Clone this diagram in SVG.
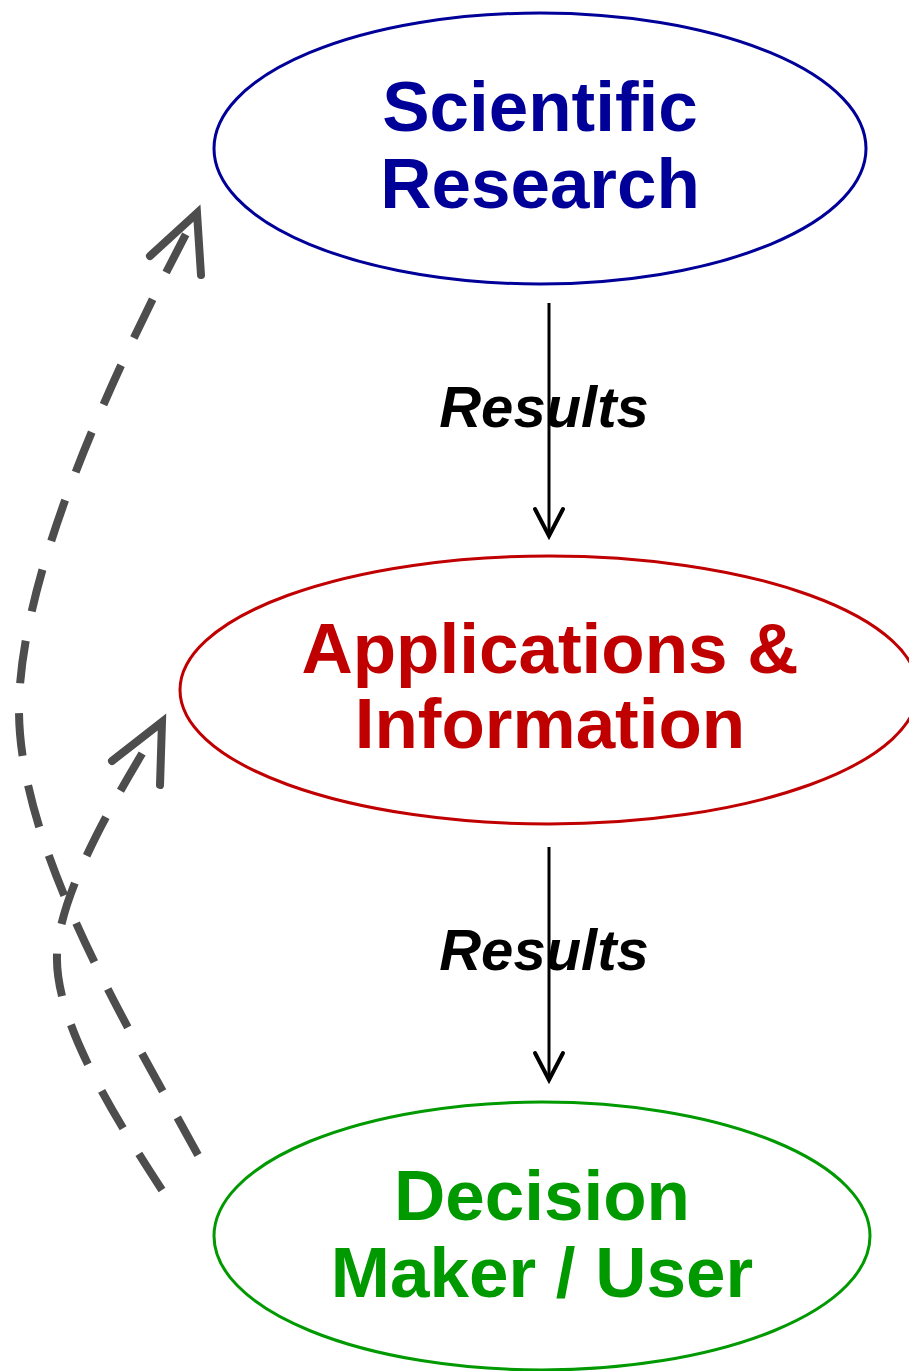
<svg xmlns="http://www.w3.org/2000/svg" width="909" height="1371" viewBox="0 0 909 1371">
<style>
.lbl{font-family:"Liberation Sans",Arial,sans-serif;font-weight:bold;font-size:71px;text-anchor:middle}
.res{font-family:"Liberation Sans",Arial,sans-serif;font-weight:bold;font-style:italic;font-size:58px;text-anchor:middle;fill:#000}
.dash{fill:none;stroke:#4d4d4d;stroke-width:8;stroke-dasharray:43 30}
.ah{fill:none;stroke:#4d4d4d;stroke-width:8;stroke-linecap:round;stroke-linejoin:miter}
.solid{fill:none;stroke:#000;stroke-width:3}
.sah{fill:none;stroke:#000;stroke-width:4;stroke-linecap:round}
</style>
<rect width="909" height="1371" fill="#fff"/>
<g id="science">
<ellipse cx="540" cy="148.5" rx="326" ry="135.5" fill="#fff" stroke="#000099" stroke-width="3"/>
<text class="lbl" x="540" y="131" fill="#000099">Scientific</text>
<text class="lbl" x="540" y="208" fill="#000099">Research</text>
</g>
<g id="applications">
<ellipse cx="549" cy="690" rx="369" ry="134" fill="#fff" stroke="#c00000" stroke-width="3"/>
<text class="lbl" x="550" y="673" fill="#c00000">Applications &amp;</text>
<text class="lbl" x="550" y="748" fill="#c00000">Information</text>
</g>
<g id="decision">
<ellipse cx="542" cy="1236" rx="328" ry="134" fill="#fff" stroke="#009900" stroke-width="3"/>
<text class="lbl" x="542" y="1220" fill="#009900">Decision</text>
<text class="lbl" x="542" y="1297" fill="#009900">Maker / User</text>
</g>
<g id="connectors">
<text class="res" x="544" y="427">Results</text>
<line class="solid" x1="549" y1="303" x2="549" y2="535"/>
<polyline class="sah" points="535,509 549,536 563,509"/>
<text class="res" x="544" y="970">Results</text>
<line class="solid" x1="549" y1="847" x2="549" y2="1079"/>
<polyline class="sah" points="535,1053 549,1080 563,1053"/>
<path class="dash" d="M198,1155 C130,1030 19,850 19,710 C19,560 135,330 197,213"/>
<polyline class="ah" points="150,256 197,213 201,275"/>
<path class="dash" d="M162,1190 C110,1110 55,1020 57,955 C59,890 120,790 160,724"/>
<polyline class="ah" points="112,761 162,722 160,785"/>
</g>
</svg>
